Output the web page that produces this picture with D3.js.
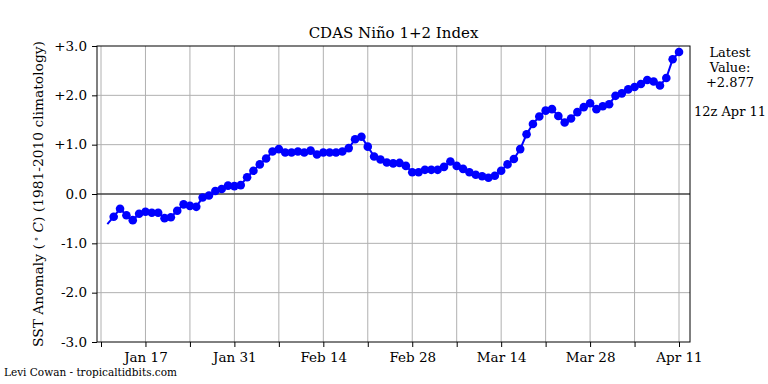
<!DOCTYPE html>
<html><head><meta charset="utf-8">
<script src="https://cdn.jsdelivr.net/npm/d3@7"></script>
<style>
body{margin:0;background:#fff;}
text{font-family:"DejaVu Serif",serif;fill:#000;}
</style></head>
<body><svg id="c" width="768" height="384"></svg>
<script>
// ---- data ----
const startDate = "2023-01-11";   // first daily value
const sstValues = [
 -0.61,-0.46,-0.30,-0.43,-0.53,-0.40,-0.36,-0.38,-0.38,-0.49,-0.47,-0.34,-0.21,-0.24,-0.26,-0.07,-0.03,0.06,0.10,0.17,0.16,
 0.18,0.34,0.47,0.60,0.72,0.86,0.91,0.84,0.84,0.86,0.84,0.88,0.80,0.84,0.84,0.84,0.86,0.93,1.11,1.16,0.96,0.76,0.70,0.64,0.62,0.63,0.57,0.44,
 0.44,0.49,0.49,0.49,0.55,0.66,0.57,0.51,0.44,0.39,0.36,0.33,0.37,0.47,0.60,0.71,0.91,1.21,1.42,1.57,1.69,1.72,1.58,1.45,1.53,1.66,1.76,1.84,1.72,1.78,1.82,
 1.99,2.04,2.12,2.17,2.23,2.31,2.28,2.20,2.35,2.73,2.877
];
const xTickLabels = ["Jan 17","Jan 31","Feb 14","Feb 28","Mar 14","Mar 28","Apr 11"];
const xTickDates  = ["2023-01-17","2023-01-31","2023-02-14","2023-02-28","2023-03-14","2023-03-28","2023-04-11"];
const xMinorDates = ["2023-01-10","2023-01-24","2023-02-07","2023-02-21","2023-03-07","2023-03-21","2023-04-04"];
const yTickValues = [3,2,1,0,-1,-2,-3];
const yTickLabels = ["+3.0","+2.0","+1.0","0.0","-1.0","-2.0","-3.0"];
const titleText = "CDAS Niño 1+2 Index";
const latestLines = ["Latest","Value:","+2.877"];
const latestTime = "12z Apr 11";
const credit = "Levi Cowan - tropicaltidbits.com";

// ---- layout ----
const L=97, R=690, T=46, B=342;
const svg=d3.select("#c");
const day=864e5;
const parse=d3.utcParse("%Y-%m-%d");
const t0=parse(startDate);
const dates=sstValues.map((v,i)=>new Date(t0.getTime()+i*day));
const x=d3.scaleUtc()
  .domain([new Date(parse("2023-01-10").getTime()-0.63*day), new Date(parse("2023-04-11").getTime()+1.73*day)])
  .range([L,R]);
const y=d3.scaleLinear().domain([-3,3]).range([B,T]);

const allGrid=[...xTickDates,...xMinorDates].map(parse);
// vertical grid
svg.append("g").selectAll("line").data(allGrid).join("line")
  .attr("x1",d=>x(d)).attr("x2",d=>x(d)).attr("y1",T).attr("y2",B)
  .attr("stroke","#b0b0b0").attr("stroke-width",1);
// horizontal grid
svg.append("g").selectAll("line").data(yTickValues.filter(v=>v!==0&&Math.abs(v)!==3)).join("line")
  .attr("x1",L).attr("x2",R).attr("y1",d=>y(d)).attr("y2",d=>y(d))
  .attr("stroke","#b0b0b0").attr("stroke-width",1);
// zero line
svg.append("line").attr("x1",L).attr("x2",R).attr("y1",y(0)).attr("y2",y(0))
  .attr("stroke","#404040").attr("stroke-width",1.5);

// series
const line=d3.line().x((d,i)=>x(dates[i])).y(d=>y(d));
svg.append("path").datum(sstValues).attr("d",line)
  .attr("fill","none").attr("stroke","#0000ff").attr("stroke-width",2);
svg.append("g").selectAll("circle").data(sstValues.slice(1)).join("circle")
  .attr("cx",(d,i)=>x(dates[i+1])).attr("cy",d=>y(d)).attr("r",4.3).attr("fill","#0000ff");

// frame
svg.append("rect").attr("x",L).attr("y",T).attr("width",R-L).attr("height",B-T)
  .attr("fill","none").attr("stroke","#000").attr("stroke-width",1);

// x axis
const xa=d3.axisBottom(x).tickValues(xTickDates.map(parse)).tickSize(5).tickPadding(5)
  .tickFormat((d,i)=>xTickLabels[i]);
const gx=svg.append("g").attr("transform",`translate(0,${B})`).call(xa);
gx.select(".domain").remove();
gx.selectAll("text").style("font-family","DejaVu Serif").style("font-size","13.5px").attr("fill","#000");
const xm=d3.axisBottom(x).tickValues(xMinorDates.map(parse)).tickSize(5).tickFormat("");
const gxm=svg.append("g").attr("transform",`translate(0,${B})`).call(xm);
gxm.select(".domain").remove();

// y axis
const ya=d3.axisLeft(y).tickValues(yTickValues).tickSize(5).tickPadding(5)
  .tickFormat((d,i)=>yTickLabels[i]);
const gy=svg.append("g").attr("transform",`translate(${L},0)`).call(ya);
gy.select(".domain").remove();
gy.selectAll("text").style("font-family","DejaVu Serif").style("font-size","13.5px").attr("fill","#000");

// title
svg.append("text").attr("x",(L+R)/2).attr("y",38).attr("text-anchor","middle")
  .style("font-size","15px").text(titleText);

// y label
const yl=svg.append("text").attr("transform",`translate(43,${(T+B)/2}) rotate(-90)`)
  .attr("text-anchor","middle").style("font-size","13.8px");
yl.append("tspan").text("SST Anomaly (");
yl.append("tspan").attr("dy",-4).style("font-size","9px").text(" ∘");
yl.append("tspan").attr("dy",4).text(" ");
yl.append("tspan").style("font-style","italic").text("C");
yl.append("tspan").text(") (1981-2010 climatology)");

// latest annotation
svg.append("g").selectAll("text").data(latestLines).join("text")
  .attr("x",730).attr("y",(d,i)=>57+i*15).attr("text-anchor","middle")
  .style("font-size","13px").text(d=>d);
svg.append("text").attr("x",730).attr("y",116).attr("text-anchor","middle")
  .style("font-size","13px").text(latestTime);

// credit
svg.append("text").attr("x",4).attr("y",376).style("font-size","10.5px").text(credit);
</script></body></html>
